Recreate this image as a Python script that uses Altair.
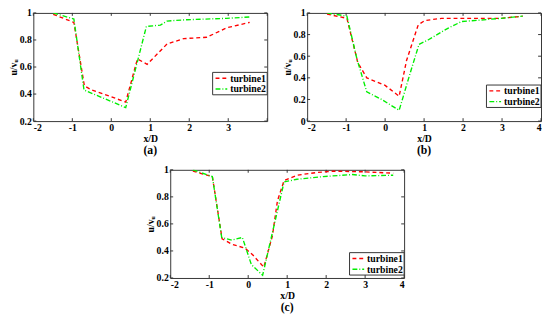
import altair as alt
import pandas as pd

FONT = "Liberation Serif"
SERIES = ["turbine1", "turbine2"]
COLORS = ["#ff0000", "#00ee00"]
DASHES = [[4, 3], [5, 2, 1, 2]]

# Panel (a)
a_t1_x = [-1.49, -0.96, -0.69, -0.50, 0.0, 0.37, 0.67, 0.92, 1.43, 1.86, 2.45, 2.96, 3.55]
a_t1_y = [0.99, 0.93, 0.46, 0.43, 0.38, 0.34, 0.66, 0.62, 0.77, 0.81, 0.82, 0.89, 0.93]
a_t2_x = [-1.49, -0.96, -0.70, 0.37, 0.90, 1.26, 1.43, 1.94, 2.96, 3.55]
a_t2_y = [1.0, 0.955, 0.43, 0.30, 0.90, 0.91, 0.94, 0.95, 0.96, 0.97]

# Panel (b)
b_t1_x = [-1.49, -0.98, -0.70, -0.47, 0.0, 0.36, 0.55, 0.85, 1.02, 1.45, 1.96, 2.98, 3.53]
b_t1_y = [0.99, 0.95, 0.54, 0.40, 0.33, 0.23, 0.56, 0.89, 0.93, 0.95, 0.95, 0.95, 0.97]
b_t2_x = [-1.49, -0.98, -0.72, -0.47, -0.09, 0.36, 0.64, 0.87, 1.10, 1.62, 1.96, 2.98, 3.53]
b_t2_y = [1.0, 0.97, 0.57, 0.27, 0.20, 0.10, 0.44, 0.71, 0.75, 0.86, 0.92, 0.95, 0.97]

# Panel (c)
c_t1_x = [-1.42, -0.92, -0.67, -0.42, -0.08, 0.12, 0.40, 0.62, 0.75, 0.92, 1.25, 1.75, 2.17, 3.0, 3.72]
c_t1_y = [0.99, 0.95, 0.49, 0.45, 0.42, 0.37, 0.28, 0.51, 0.77, 0.92, 0.96, 0.98, 0.99, 0.985, 0.975]
c_t2_x = [-1.42, -0.92, -0.68, -0.42, -0.15, 0.08, 0.37, 0.92, 1.25, 1.92, 2.67, 3.0, 3.72]
c_t2_y = [1.0, 0.95, 0.50, 0.48, 0.50, 0.30, 0.22, 0.91, 0.93, 0.95, 0.965, 0.955, 0.96]

X_TICKS = [-2, -1, 0, 1, 2, 3, 4]
X_LABELS_A = [-2, -1, 0, 1, 2, 3]
Y_TICKS_02 = [0.2, 0.4, 0.6, 0.8, 1.0]
Y_TICKS_0 = [0, 0.2, 0.4, 0.6, 0.8, 1.0]

W, H = 240, 111
TICK = 3
LW, LH = 56, 23


def panel(x1, y1, x2, y2, ydom, yticks, xlabels, letter, lx, ly):
    df = pd.DataFrame({
        "x": x1 + x2,
        "y": y1 + y2,
        "series": [SERIES[0]] * len(x1) + [SERIES[1]] * len(x2),
        "order": list(range(len(x1))) + list(range(len(x2))),
    })
    xs = alt.Scale(domain=[-2, 4], nice=False, zero=False)
    ys = alt.Scale(domain=ydom, nice=False, zero=False)
    xaxis = alt.Axis(values=xlabels, title="x/D", labelExpr="toString(datum.value)")
    yaxis = alt.Axis(values=yticks, title="u/vᵤ", labelExpr="toString(datum.value)")
    lines = alt.Chart(df).mark_line(strokeWidth=1.4, clip=True).encode(
        x=alt.X("x:Q", scale=xs, axis=xaxis),
        y=alt.Y("y:Q", scale=ys, axis=yaxis),
        color=alt.Color("series:N", scale=alt.Scale(domain=SERIES, range=COLORS), legend=None),
        strokeDash=alt.StrokeDash("series:N", scale=alt.Scale(domain=SERIES, range=DASHES), legend=None),
        order="order:Q",
    )
    xt = pd.DataFrame({"t": X_TICKS})
    yt = pd.DataFrame({"t": yticks})
    rule = dict(color="#333333", strokeWidth=1)
    xb = alt.Chart(xt).mark_rule(**rule).encode(
        x=alt.X("t:Q", scale=xs, axis=xaxis), y=alt.value(H), y2=alt.value(H - TICK))
    xtop = alt.Chart(xt).mark_rule(**rule).encode(
        x=alt.X("t:Q", scale=xs, axis=xaxis), y=alt.value(0), y2=alt.value(TICK))
    yl = alt.Chart(yt).mark_rule(**rule).encode(
        y=alt.Y("t:Q", scale=ys, axis=yaxis), x=alt.value(0), x2=alt.value(TICK))
    yr = alt.Chart(yt).mark_rule(**rule).encode(
        y=alt.Y("t:Q", scale=ys, axis=yaxis), x=alt.value(W - TICK), x2=alt.value(W))

    # legend box
    box = alt.Chart(pd.DataFrame({"k": [0]})).mark_rect(
        fill="white", stroke="#333333", strokeWidth=1).encode(
        x=alt.value(lx), x2=alt.value(lx + LW), y=alt.value(ly), y2=alt.value(ly + LH))
    leg_layers = [box]
    for i, s in enumerate(SERIES):
        sd = pd.DataFrame({"series": [s]})
        yy = ly + 6 + i * 11
        leg_layers.append(alt.Chart(sd).mark_rule(
            color=COLORS[i], strokeDash=DASHES[i], strokeWidth=1.5).encode(
            x=alt.value(lx + 3), x2=alt.value(lx + 15), y=alt.value(yy)))
        leg_layers.append(alt.Chart(sd).mark_text(
            align="left", baseline="middle", fontSize=10,
            fontWeight="bold", color="black").encode(
            text="series:N", x=alt.value(lx + 18), y=alt.value(yy + 0.5)))

    return alt.layer(xb, xtop, yl, yr, lines, *leg_layers).properties(
        width=W, height=H,
        title=alt.TitleParams(letter, orient="bottom", font=FONT, fontSize=12,
                              fontWeight="bold", offset=2),
    )


pa = panel(a_t1_x, a_t1_y, a_t2_x, a_t2_y, [0.2, 1], Y_TICKS_02, X_LABELS_A, "(a)", 184, 61)
pb = panel(b_t1_x, b_t1_y, b_t2_x, b_t2_y, [0, 1], Y_TICKS_0, X_TICKS, "(b)", 184, 74)
pc = panel(c_t1_x, c_t1_y, c_t2_x, c_t2_y, [0.2, 1], Y_TICKS_02, X_TICKS, "(c)", 184, 85)

row = alt.hconcat(pa, pb, spacing=14)

chart = alt.vconcat(row, pc, spacing=7, center=True).properties(
    padding={"left": 0, "top": -5, "right": 0, "bottom": 0}
).configure_view(
    stroke="#333333", strokeWidth=1
).configure_text(
    font=FONT
).configure_axis(
    ticks=False, domain=False, grid=False,
    labelFont=FONT, labelFontSize=10, labelFontWeight="bold", labelColor="black",
    labelPadding=2,
    titleFont=FONT, titleFontSize=10, titleFontWeight="bold", titleColor="black",
    titlePadding=1,
)

chart.save("out.html", embed_options={"renderer": "svg", "actions": False})
